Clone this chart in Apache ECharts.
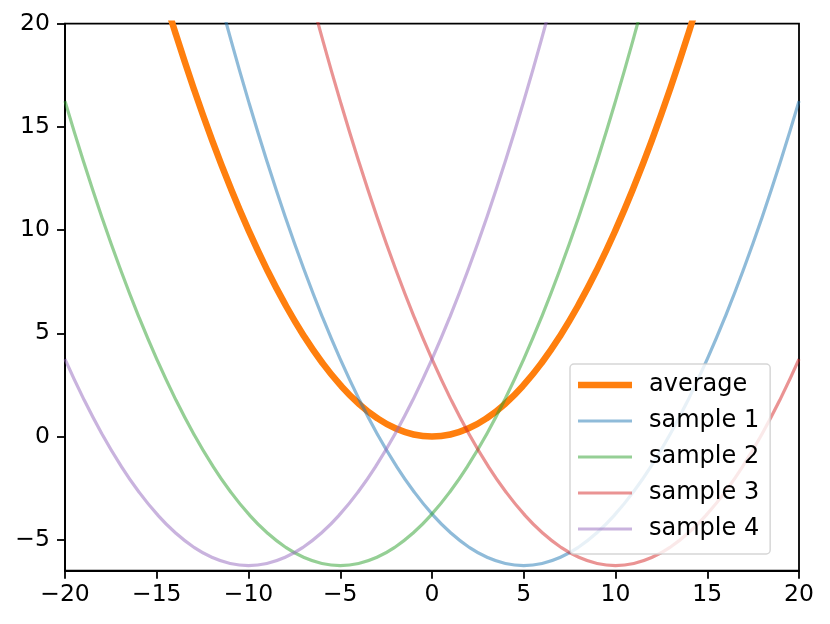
<!DOCTYPE html>
<html>
<head>
    <meta charset="utf-8">
    <title>average of samples</title>
    <script src="https://cdn.jsdelivr.net/npm/echarts@6/dist/echarts.min.js"></script>
    <style>
        html, body { margin: 0; padding: 0; background: #fff; }
    </style>
</head>
<body>
    <div id="main" style="width: 830px;height:624px;"></div>
    <script type="text/javascript">
        // x positions shared by every curve
        var xs = [-20, -19, -18, -17, -16, -15, -14, -13, -12, -11, -10, -9, -8, -7, -6, -5, -4, -3, -2, -1,
                  0, 1, 2, 3, 4, 5, 6, 7, 8, 9, 10, 11, 12, 13, 14, 15, 16, 17, 18, 19, 20];

        // y values (null = outside the plot)
        var average = [null, null, null, null, null, 22.5, 19.6, 16.9, 14.4, 12.1, 10, 8.1, 6.4, 4.9, 3.6, 2.5, 1.6, 0.9, 0.4, 0.1,
                       0, 0.1, 0.4, 0.9, 1.6, 2.5, 3.6, 4.9, 6.4, 8.1, 10, 12.1, 14.4, 16.9, 19.6, 22.5, null, null, null, null, null];
        var sample1 = [null, null, null, null, null, null, null, null, 22.65, 19.35, 16.25, 13.35, 10.65, 8.15, 5.85, 3.75, 1.85, 0.15, -1.35, -2.65,
                       -3.75, -4.65, -5.35, -5.85, -6.15, -6.25, -6.15, -5.85, -5.35, -4.65, -3.75, -2.65, -1.35, 0.15, 1.85, 3.75, 5.85, 8.15, 10.65, 13.35, 16.25];
        var sample2 = [16.25, 13.35, 10.65, 8.15, 5.85, 3.75, 1.85, 0.15, -1.35, -2.65, -3.75, -4.65, -5.35, -5.85, -6.15, -6.25, -6.15, -5.85, -5.35, -4.65,
                       -3.75, -2.65, -1.35, 0.15, 1.85, 3.75, 5.85, 8.15, 10.65, 13.35, 16.25, 19.35, 22.65, null, null, null, null, null, null, null, null];
        var sample3 = [null, null, null, null, null, null, null, null, null, null, null, null, null, 22.65, 19.35, 16.25, 13.35, 10.65, 8.15, 5.85,
                       3.75, 1.85, 0.15, -1.35, -2.65, -3.75, -4.65, -5.35, -5.85, -6.15, -6.25, -6.15, -5.85, -5.35, -4.65, -3.75, -2.65, -1.35, 0.15, 1.85, 3.75];
        var sample4 = [3.75, 1.85, 0.15, -1.35, -2.65, -3.75, -4.65, -5.35, -5.85, -6.15, -6.25, -6.15, -5.85, -5.35, -4.65, -3.75, -2.65, -1.35, 0.15, 1.85,
                       3.75, 5.85, 8.15, 10.65, 13.35, 16.25, 19.35, 22.65, null, null, null, null, null, null, null, null, null, null, null, null, null];

        var yTicks = [-5, 0, 5, 10, 15, 20];

        function pairs(ys) {
            return xs.map(function (x, i) { return [x, ys[i]]; });
        }
        function minus(v) {
            return String(v).replace('-', '\u2212');
        }

        var font = 'DejaVu Sans';
        var myChart = echarts.init(document.getElementById('main'));

        var curves = [
            { name: 'average',  data: average, color: '#ff7f0e', width: 6.5 },
            { name: 'sample 1', data: sample1, color: 'rgba(31,119,180,0.5)', width: 3.2 },
            { name: 'sample 2', data: sample2, color: 'rgba(44,160,44,0.5)', width: 3.2 },
            { name: 'sample 3', data: sample3, color: 'rgba(214,39,40,0.5)', width: 3.2 },
            { name: 'sample 4', data: sample4, color: 'rgba(148,103,189,0.5)', width: 3.2 }
        ];

        option = {
            animation: false,
            grid: {
                left: 65,
                right: 31,
                top: 23.7,
                bottom: 53.3,
                show: true,
                borderColor: '#000',
                borderWidth: 1.8,
                backgroundColor: 'transparent'
            },
            legend: {
                orient: 'vertical',
                left: 570,
                top: 364,
                itemWidth: 54,
                itemHeight: 7,
                itemGap: 12,
                padding: [9, 11, 13, 8],
                backgroundColor: 'rgba(255,255,255,0.8)',
                borderColor: 'rgba(204,204,204,0.8)',
                borderWidth: 1.5,
                borderRadius: 4,
                selectedMode: false,
                textStyle: {
                    fontFamily: font,
                    fontSize: 24,
                    color: '#000',
                    lineHeight: 24,
                    padding: [0, 0, 0, 12]
                },
                data: curves.map(function (c) {
                    return {
                        name: c.name,
                        icon: 'path://M0,0H54V' + c.width + 'H0Z',
                        itemStyle: { color: c.color }
                    };
                })
            },
            xAxis: {
                type: 'value',
                min: -20,
                max: 20,
                interval: 5,
                splitLine: { show: false },
                axisLine: { onZero: false, lineStyle: { color: '#000', width: 1.8 } },
                axisTick: { length: 8, lineStyle: { color: '#000', width: 1.8 } },
                axisLabel: {
                    margin: 12,
                    fontFamily: font,
                    fontSize: 23.5,
                    color: '#000',
                    formatter: minus
                }
            },
            yAxis: {
                type: 'value',
                min: -6.5,
                max: 20,
                splitLine: { show: false },
                axisLine: { show: true, onZero: false, lineStyle: { color: '#000', width: 1.8 } },
                axisTick: { show: true, length: 8, customValues: yTicks, lineStyle: { color: '#000', width: 1.8 } },
                axisLabel: {
                    margin: 15,
                    fontFamily: font,
                    fontSize: 23.5,
                    color: '#000',
                    customValues: yTicks,
                    formatter: minus
                }
            },
            series: curves.map(function (c) {
                return {
                    name: c.name,
                    type: 'line',
                    data: pairs(c.data),
                    smooth: true,
                    symbol: 'none',
                    color: c.color,
                    lineStyle: { color: c.color, width: c.width },
                    clip: true
                };
            })
        };
        myChart.setOption(option);
    </script>
</body>
</html>
